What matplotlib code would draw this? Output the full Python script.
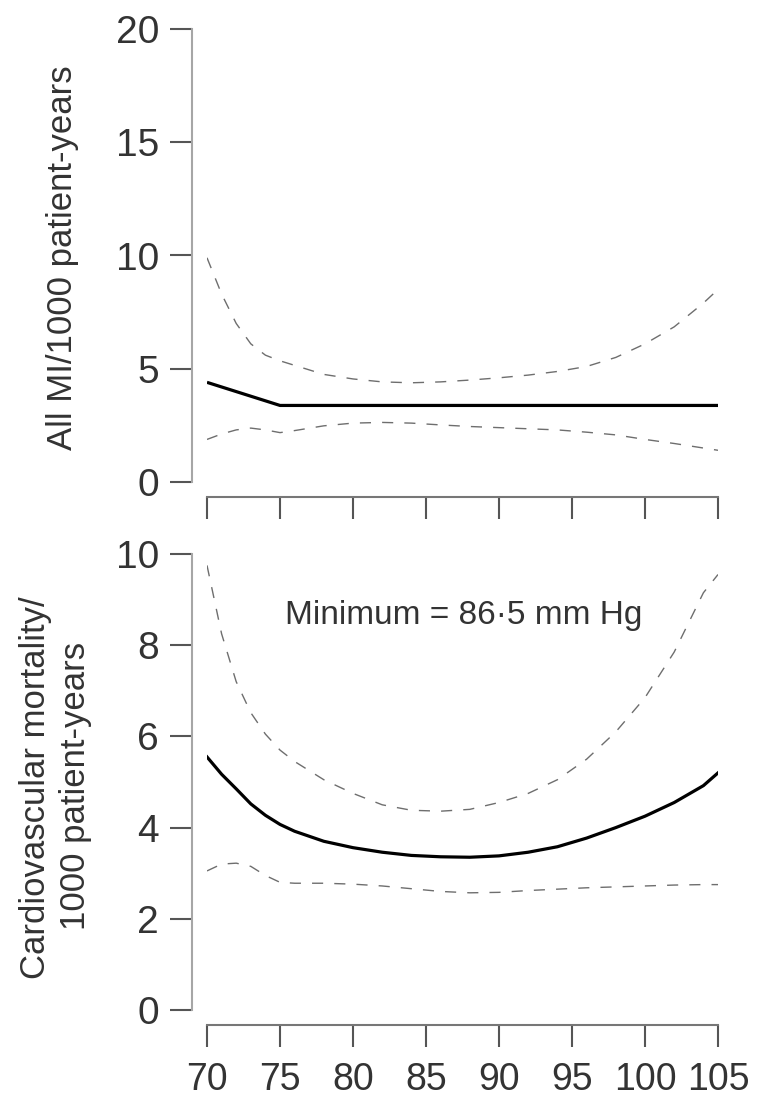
import matplotlib
matplotlib.use("Agg")
import matplotlib.pyplot as plt

plt.rcParams['font.family'] = ['Liberation Sans', 'DejaVu Sans']

# diastolic blood pressure (mm Hg)
bp = [70, 71, 72, 73, 74, 75, 76, 78, 80, 82, 84, 86, 88, 90, 92, 94, 96, 98, 100, 102, 104, 105]

# all MI per 1000 patient-years
mi_x = [70, 75, 105]
mi_est = [4.4, 3.38, 3.38]
mi_upper = [9.9, 8.3, 7.0, 6.1, 5.6, 5.35, 5.15, 4.75, 4.55, 4.42, 4.38, 4.42,
            4.5, 4.6, 4.72, 4.88, 5.1, 5.5, 6.1, 6.85, 7.9, 8.5]
mi_lower = [1.88, 2.12, 2.3, 2.38, 2.3, 2.18, 2.27, 2.48, 2.6, 2.63, 2.6, 2.52,
            2.45, 2.4, 2.35, 2.3, 2.2, 2.08, 1.88, 1.7, 1.5, 1.4]

# cardiovascular mortality per 1000 patient-years
cv_est = [5.55, 5.17, 4.85, 4.52, 4.27, 4.07, 3.92, 3.7, 3.56, 3.46, 3.39, 3.36,
          3.35, 3.38, 3.46, 3.58, 3.77, 4.0, 4.25, 4.55, 4.92, 5.2]
cv_upper = [9.75, 8.25, 7.2, 6.52, 6.05, 5.7, 5.45, 5.05, 4.75, 4.5, 4.38, 4.36,
            4.4, 4.55, 4.75, 5.05, 5.5, 6.1, 6.85, 7.85, 9.15, 9.55]
cv_lower = [3.05, 3.2, 3.22, 3.15, 2.95, 2.8, 2.78, 2.78, 2.76, 2.72, 2.66, 2.6,
            2.57, 2.58, 2.62, 2.65, 2.68, 2.7, 2.72, 2.74, 2.75, 2.75]

xticks = [70, 75, 80, 85, 90, 95, 100, 105]
mi_yticks = [0, 5, 10, 15, 20]
cv_yticks = [0, 2, 4, 6, 8, 10]

W, H = 764, 1098
fig = plt.figure(figsize=(W / 100, H / 100), dpi=100)

left, width = 207 / W, 511 / W
ax1 = fig.add_axes([left, 1 - 482 / H, width, 453 / H])
ax2 = fig.add_axes([left, 1 - 1010 / H, width, 456 / H])

dash = (0, (8, 8))
grey = '#6e6e6e'
ax1.plot(mi_x, mi_est, color='black', lw=2.3, solid_capstyle='butt')
ax1.plot(bp, mi_upper, color=grey, lw=1.0, ls=dash)
ax1.plot(bp, mi_lower, color=grey, lw=1.0, ls=dash)

ax2.plot(bp, cv_est, color='black', lw=2.3)
ax2.plot(bp, cv_upper, color=grey, lw=1.0, ls=dash)
ax2.plot(bp, cv_lower, color=grey, lw=1.0, ls=dash)

ax2.text(87.6, 8.66, 'Minimum = 86\u00b75 mm Hg', ha='center', va='center',
         fontsize=24, color='#333333')

for ax, yt in ((ax1, mi_yticks), (ax2, cv_yticks)):
    ax.set_xlim(70, 105)
    ax.set_ylim(yt[0], yt[-1])
    ax.set_xticks(xticks)
    ax.set_yticks(yt)
    ax.spines['top'].set_visible(False)
    ax.spines['right'].set_visible(False)
    ax.spines['left'].set_position(('outward', 11))
    ax.spines['bottom'].set_position(('outward', 11))
    ax.spines['left'].set_color('#a6a6a6')
    ax.spines['bottom'].set_color('#777777')
    ax.spines['left'].set_linewidth(1.5)
    ax.spines['bottom'].set_linewidth(1.5)
    ax.tick_params(axis='y', direction='out', length=15.5, width=1.5,
                   color='#555555', pad=8, labelsize=28, labelcolor='#333333')
    ax.tick_params(axis='x', direction='out', length=15.5, width=1.5,
                   color='#555555', pad=11, labelsize=27, labelcolor='#333333')
    ax.patch.set_visible(False)

ax1.tick_params(axis='x', labelbottom=False)

fig.text(63 / W, 1 - 258 / H, 'All MI/1000 patient-years', rotation=90,
         ha='center', va='center', fontsize=25, color='#333333')
fig.text(36 / W, 1 - 788 / H, 'Cardiovascular mortality/', rotation=90,
         ha='center', va='center', fontsize=25, color='#333333')
fig.text(76 / W, 1 - 786 / H, '1000 patient-years', rotation=90,
         ha='center', va='center', fontsize=25, color='#333333')

fig.savefig('out.png', dpi=100)
